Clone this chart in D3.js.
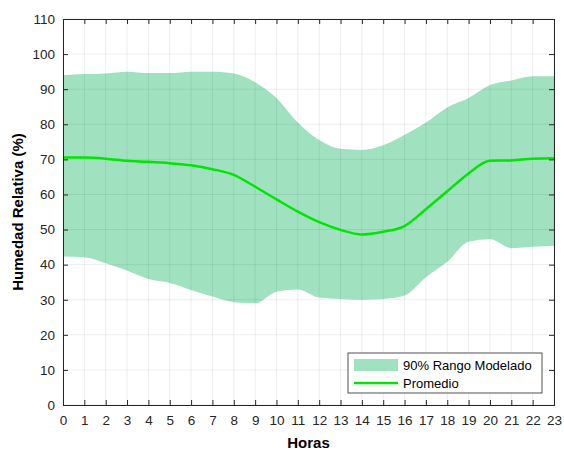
<!DOCTYPE html>
<html>
<head>
<meta charset="utf-8">
<script src="https://cdn.jsdelivr.net/npm/d3@7"></script>
<style>
  body { margin: 0; background: #fff; }
  text { font-family: "Liberation Sans", Arial, sans-serif; }
</style>
</head>
<body>
<div id="chart"></div>
<script>
// hourly values
const hours = d3.range(0, 24);
const upper = [94, 94.3, 94.5, 95, 94.6, 94.6, 95, 95, 94.5, 92, 87.5, 80.5, 75.5, 73, 72.7, 74, 77, 80.5, 84.8, 87.5, 91.2, 92.5, 93.7, 93.7];
const lower = [42.3, 42.1, 40.4, 38.3, 35.9, 34.8, 32.8, 30.9, 29.3, 29, 32.3, 32.9, 30.6, 30.2, 30, 30.2, 31.2, 36.4, 40.8, 46.5, 47.2, 44.7, 45.1, 45.4];
const mean = [70.5, 70.5, 70.2, 69.6, 69.3, 68.9, 68.3, 67.2, 65.6, 62.2, 58.6, 55.1, 52.1, 49.9, 48.6, 49.4, 51, 55.8, 60.9, 66, 69.6, 69.7, 70.2, 70.3];
const yTicks = d3.range(0, 111, 10);

const W = 564, H = 451;
const margin = { top: 19, right: 10, bottom: 46, left: 63 };
const width = W - margin.left - margin.right;
const height = H - margin.top - margin.bottom;

const svg = d3.select("#chart").append("svg")
    .attr("width", W).attr("height", H);
const g = svg.append("g")
    .attr("transform", `translate(${margin.left},${margin.top})`);

const x = d3.scaleLinear().domain([0, 23]).range([0, width]);
const y = d3.scaleLinear().domain([0, 110]).range([height, 0]);

const band = hours.map((h, i) => ({ h, lo: lower[i], hi: upper[i] }));
g.append("path").datum(band)
    .attr("fill", "#a0e2c0")
    .attr("d", d3.area().curve(d3.curveMonotoneX)
        .x(d => x(d.h)).y0(d => y(d.lo)).y1(d => y(d.hi)));

// faint grid on top of the band, like matlab's
g.append("g").selectAll("line").data(hours).join("line")
    .attr("x1", d => x(d)).attr("x2", d => x(d))
    .attr("y1", 0).attr("y2", height)
    .attr("stroke", "#000").attr("stroke-opacity", 0.07);
g.append("g").selectAll("line").data(yTicks).join("line")
    .attr("x1", 0).attr("x2", width)
    .attr("y1", d => y(d)).attr("y2", d => y(d))
    .attr("stroke", "#000").attr("stroke-opacity", 0.07);

g.append("path").datum(hours.map((h, i) => ({ h, v: mean[i] })))
    .attr("fill", "none")
    .attr("stroke", "#00e600")
    .attr("stroke-width", 2.5)
    .attr("d", d3.line().curve(d3.curveMonotoneX).x(d => x(d.h)).y(d => y(d.v)));

// axes
const axisColor = "#262626";
const xAxis = g.append("g").attr("transform", `translate(0,${height})`)
    .call(d3.axisBottom(x).tickValues(hours).tickSize(-5).tickPadding(10).tickFormat(d3.format("d")));
const xTop = g.append("g")
    .call(d3.axisTop(x).tickValues(hours).tickSize(-5).tickFormat(""));
const yAxis = g.append("g")
    .call(d3.axisLeft(y).tickValues(yTicks).tickSize(-5).tickPadding(8));
const yRight = g.append("g").attr("transform", `translate(${width},0)`)
    .call(d3.axisRight(y).tickValues(yTicks).tickSize(-5).tickFormat(""));

[xAxis, xTop, yAxis, yRight].forEach(a => {
    a.select(".domain").attr("stroke", axisColor);
    a.selectAll(".tick line").attr("stroke", axisColor);
    a.selectAll("text").attr("fill", axisColor).style("font-size", "13.5px");
});

svg.append("text")
    .attr("x", margin.left + width / 2).attr("y", H - 3)
    .attr("text-anchor", "middle")
    .style("font-size", "15px").style("font-weight", "bold")
    .attr("fill", "#000")
    .text("Horas");

svg.append("text")
    .attr("transform", `translate(23,${margin.top + height / 2}) rotate(-90)`)
    .attr("text-anchor", "middle")
    .style("font-size", "15px").style("font-weight", "bold")
    .attr("fill", "#000")
    .text("Humedad Relativa (%)");

// legend
const leg = svg.append("g").attr("transform", "translate(348,353)");
leg.append("rect").attr("width", 194).attr("height", 40)
    .attr("fill", "#fff").attr("stroke", "#262626").attr("stroke-width", 0.8);
leg.append("rect").attr("x", 6).attr("y", 6).attr("width", 44).attr("height", 12)
    .attr("fill", "#a0e2c0");
leg.append("line").attr("x1", 6).attr("x2", 50).attr("y1", 30).attr("y2", 30)
    .attr("stroke", "#00e600").attr("stroke-width", 2.5);
leg.append("text").attr("x", 55).attr("y", 17)
    .style("font-size", "13px").attr("fill", "#000").text("90% Rango Modelado");
leg.append("text").attr("x", 55).attr("y", 35)
    .style("font-size", "13px").attr("fill", "#000").text("Promedio");
</script>
</body>
</html>
